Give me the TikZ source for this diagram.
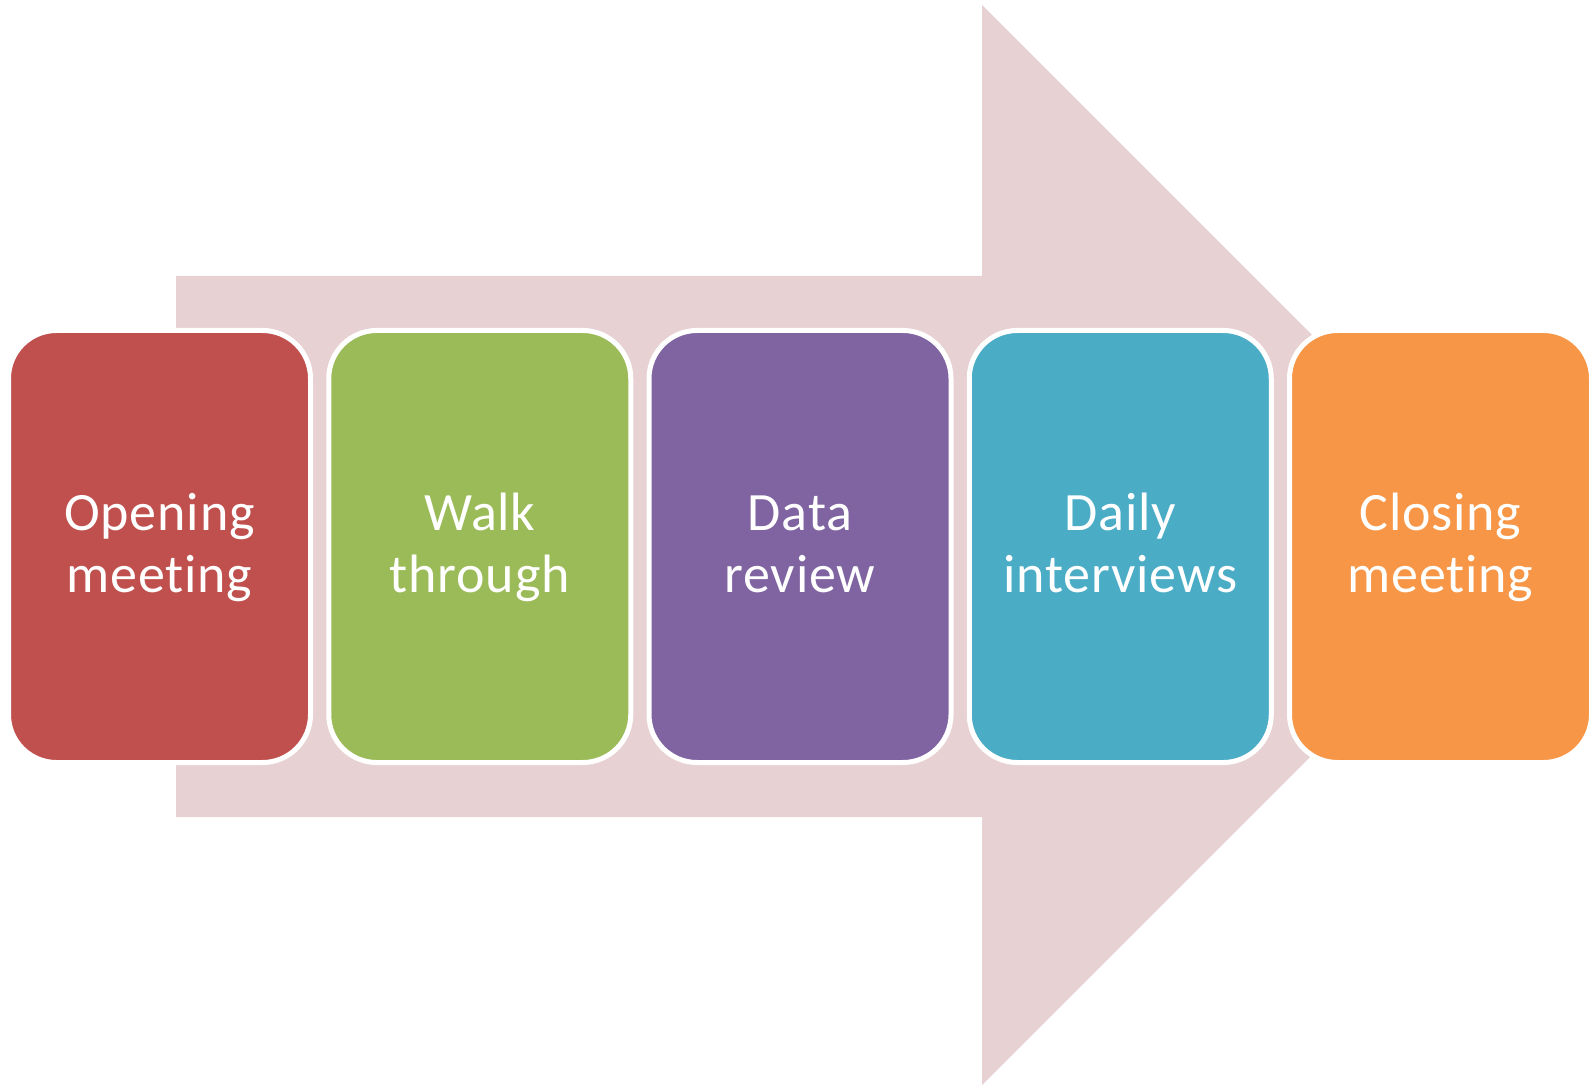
\documentclass[tikz,border=0pt]{standalone}
\usepackage{fontspec}
\setmainfont{Carlito}[Ligatures={NoCommon}, LetterSpace=1.5]
\definecolor{arrowpink}{HTML}{E8D1D2}
\definecolor{stepred}{HTML}{C0504D}
\definecolor{stepgreen}{HTML}{9BBB59}
\definecolor{steppurple}{HTML}{8064A2}
\definecolor{stepblue}{HTML}{4BACC6}
\definecolor{steporange}{HTML}{F79646}
\begin{document}
\begin{tikzpicture}[x=0.5pt,y=-0.5pt,
  stepbox/.style={draw=white, line width=2.5pt, rounded corners=24pt,
    minimum width=151pt, minimum height=216pt, inner sep=0pt},
  steptext/.style={text=white, font=\fontsize{27}{31}\selectfont,
    text width=148pt, align=center, anchor=base, inner sep=0pt}]
\useasboundingbox (0,0) rectangle (1589,1085);
% background arrow
\fill[arrowpink] (176,276) -- (982,276) -- (982,5) -- (1522,545)
  -- (982,1085) -- (982,817) -- (176,817) -- cycle;
% process steps
\node[stepbox, fill=stepred]    (s1) at (159.5,546.5) {};
\node[stepbox, fill=stepgreen]  (s2) at (479.75,546.5) {};
\node[stepbox, fill=steppurple] (s3) at (800,546.5) {};
\node[stepbox, fill=stepblue]   (s4) at (1120.25,546.5) {};
\node[stepbox, fill=steporange] (s5) at (1440.5,546.5) {};
% labels
\node[steptext] (t1) at (159.5,530) {Opening\\meeting};
\node[steptext] (t2) at (479.75,530) {Walk\\through};
\node[steptext] (t3) at (800,530) {Data\\review};
\node[steptext] (t4) at (1120.25,530) {Daily\\interviews};
\node[steptext] (t5) at (1440.5,530) {Closing\\meeting};
\end{tikzpicture}
\end{document}
